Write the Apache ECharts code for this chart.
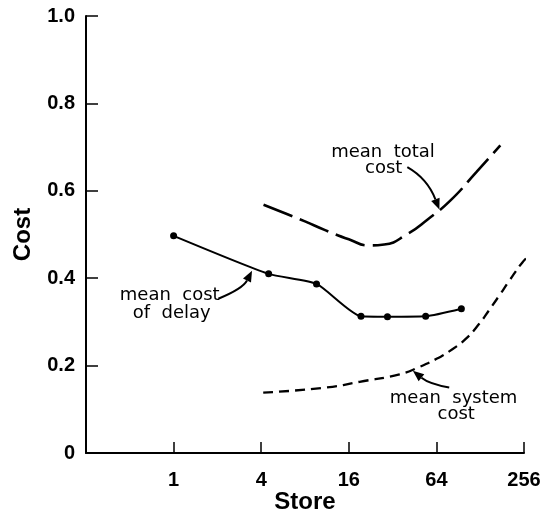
<!DOCTYPE html>
<html><head><meta charset="utf-8">
<script src="https://cdn.jsdelivr.net/npm/echarts@6/dist/echarts.min.js"></script>
<style>html,body{margin:0;padding:0;background:#fff}#c{width:543px;height:512px}</style>
</head><body><div id="c"></div>
<script>
// ---- data ----
const xTicks = [1, 4, 16, 64, 256];
const yTicks = [0, 0.2, 0.4, 0.6, 0.8, 1.0];
const delayStore = [1, 4.5, 9.6, 19.4, 29.5, 54, 95];
const delayCost  = [0.497, 0.41, 0.387, 0.313, 0.312, 0.313, 0.33];
const totalStore = [4.15, 6, 8, 11, 16, 22, 28, 40, 56, 80, 120, 176];
const totalCost  = [0.568, 0.547, 0.53, 0.51, 0.489, 0.475, 0.477, 0.5, 0.535, 0.578, 0.642, 0.704];
const systemStore = [4.13, 11.3, 19, 35.7, 49, 63.7, 82.9, 101.8, 125.6, 147.5, 172.9, 202.7, 249.6, 292.5];
const systemCost  = [0.138, 0.15, 0.163, 0.18, 0.197, 0.215, 0.238, 0.261, 0.295, 0.327, 0.36, 0.394, 0.436, 0.459];

const zip = (a, b) => a.map((v, i) => [v, b[i]]);
const chart = echarts.init(document.getElementById('c'), null, {renderer: 'canvas'});
const tickFont = '"Liberation Sans", Arial, sans-serif';
const annFont = '18px "DejaVu Sans", sans-serif';

chart.setOption({
  animation: false,
  backgroundColor: '#fff',
  grid: {left: 86, right: 19, top: 16, bottom: 59, containLabel: false, outerBoundsMode: 'none'},
  xAxis: {
    type: 'log', logBase: 4, min: 0.25, max: 256,
    name: 'Store', nameLocation: 'middle', nameGap: 37, nameMoveOverlap: false,
    nameTextStyle: {fontFamily: tickFont, fontSize: 24, fontWeight: 'bold', color: '#000'},
    axisLine: {show: true, lineStyle: {color: '#000', width: 2}},
    axisTick: {show: true, inside: true, length: 11, lineStyle: {color: '#000', width: 1.5}},
    axisLabel: {
      margin: 17, color: '#000', fontFamily: tickFont, fontSize: 20, fontWeight: 'bold',
      showMinLabel: true, showMaxLabel: true,
      formatter: v => { const r = Math.round(v); return xTicks.includes(r) && Math.abs(v - r) < 1e-6 ? String(r) : ''; }
    },
    splitLine: {show: false}
  },
  yAxis: {
    type: 'value', min: yTicks[0], max: yTicks[yTicks.length - 1], interval: 0.2,
    name: 'Cost', nameLocation: 'middle', nameGap: 51, nameMoveOverlap: false,
    nameTextStyle: {fontFamily: tickFont, fontSize: 24, fontWeight: 'bold', color: '#000'},
    axisLine: {show: true, lineStyle: {color: '#000', width: 2}},
    axisTick: {show: true, inside: true, length: 12, lineStyle: {color: '#000', width: 1.5}},
    axisLabel: {
      margin: 11, color: '#000', fontFamily: tickFont, fontSize: 20, fontWeight: 'bold',
      formatter: v => v === 0 ? '0' : v.toFixed(1)
    },
    splitLine: {show: false}
  },
  series: [
    {
      type: 'line', name: 'mean cost of delay', data: zip(delayStore, delayCost),
      smooth: 0.2, clip: false, symbol: 'circle', symbolSize: 7, showSymbol: true,
      lineStyle: {color: '#000', width: 2}, itemStyle: {color: '#000'}
    },
    {
      type: 'line', name: 'mean total cost', data: zip(totalStore, totalCost),
      smooth: 0.5, clip: false, symbol: 'none',
      lineStyle: {color: '#000', width: 2.6, type: [31, 8]}
    },
    {
      type: 'line', name: 'mean system cost', data: zip(systemStore, systemCost),
      smooth: 0.5, clip: false, symbol: 'none',
      lineStyle: {color: '#000', width: 2.3, type: [10, 6]}
    }
  ]
});

// ---- annotations (anchored in data coordinates) ----
const P = (s, v) => chart.convertToPixel({xAxisIndex: 0, yAxisIndex: 0}, [s, v]);
function label(s, v, text) {
  const p = P(s, v);
  return {type: 'text', z: 10, style: {text, x: p[0], y: p[1], align: 'center', verticalAlign: 'middle',
    textAlign: 'center', textVerticalAlign: 'middle', font: annFont, fill: '#000'}};
}
function arrow(a, c, b) {
  const p0 = P(a[0], a[1]), pc = P(c[0], c[1]), p1 = P(b[0], b[1]);
  const dx = p1[0] - pc[0], dy = p1[1] - pc[1], L = Math.hypot(dx, dy);
  const ux = dx / L, uy = dy / L, len = 11, hw = 4.5;
  const bx = p1[0] - ux * len, by = p1[1] - uy * len;
  return [
    {type: 'bezierCurve', z: 10, shape: {x1: p0[0], y1: p0[1], cpx1: pc[0], cpy1: pc[1], x2: bx, y2: by},
      style: {stroke: '#000', lineWidth: 2, fill: null}},
    {type: 'polygon', z: 10, shape: {points: [[p1[0], p1[1]], [bx - uy * hw, by + ux * hw], [bx + uy * hw, by - ux * hw]]},
      style: {fill: '#000'}}
  ];
}
chart.setOption({
  graphic: [
    label(27.5, 0.688, 'mean  total'),
    label(27.8, 0.651, 'cost'),
    ...arrow([40.4, 0.654], [55.4, 0.628], [67.1, 0.557]),
    label(0.94, 0.36, 'mean  cost'),
    label(0.97, 0.319, 'of  delay'),
    ...arrow([2.03, 0.353], [2.99, 0.376], [3.46, 0.417]),
    label(84, 0.124, 'mean  system'),
    label(87.6, 0.089, 'cost'),
    ...arrow([78.4, 0.15], [57.2, 0.158], [44.1, 0.188])
  ]
});
</script>
</body></html>
